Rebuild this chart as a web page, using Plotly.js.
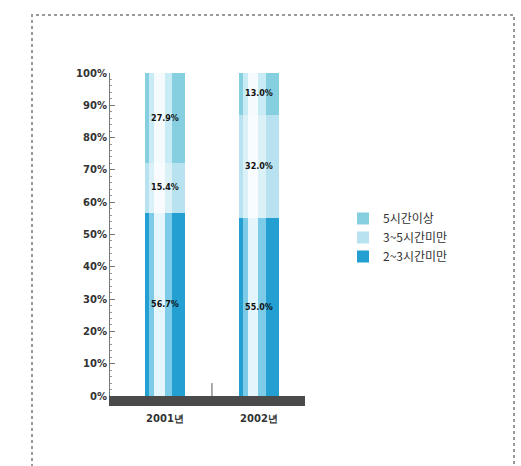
<!DOCTYPE html>
<html>
<head>
<meta charset="utf-8">
<script src="https://cdn.plot.ly/plotly-3.0.1.min.js"></script>
<style>html,body{margin:0;padding:0;background:#fff;}#chart{width:521px;height:466px;}</style>
</head>
<body>
<div id="chart"></div>
<script>
// Data
const years = ['2001년', '2002년'];
const under3h = [56.7, 55.0];   // 2~3시간미만
const h3to5 = [15.4, 32.0];     // 3~5시간미만
const over5h = [27.9, 13.0];    // 5시간이상
const seriesNames = ['2~3시간미만', '3~5시간미만', '5시간이상'];
const yTicks = [0, 10, 20, 30, 40, 50, 60, 70, 80, 90, 100];

const barW = 0.42;
const labelFont = {family: 'DejaVu Sans', size: 8, color: '#111', weight: 'bold'};

function seg(vals, name, color) {
  return {
    type: 'bar', x: years, y: vals, name: name, width: barW,
    marker: {color: color, line: {width: 0}}, hoverinfo: 'skip', textposition: 'none'
  };
}
function hl(vals, axis, color, w, off) {
  return {
    type: 'bar', x: years, y: vals, xaxis: axis, width: w, offset: off,
    marker: {color: color, line: {width: 0}}, showlegend: false, hoverinfo: 'skip',
    textposition: 'none'
  };
}

const seriesVals = [under3h, h3to5, over5h];
const baseColors = ['#239fd2', '#b8e2ef', '#86cfe0'];
const midColors = ['#7ccbe8', '#dbf1f8', '#c8ebf5'];
const coreColors = ['#e4f6fc', '#f8fcfe', '#f5fbfd'];

const traces = [];
seriesVals.forEach((v, i) => traces.push(seg(v, seriesNames[i], baseColors[i])));
// cylinder shading bands (same data, drawn narrower on overlaid axes)
seriesVals.forEach((v, i) => traces.push(hl(v, 'x2', midColors[i], 0.24, -0.17)));
seriesVals.forEach((v, i) => traces.push(hl(v, 'x3', coreColors[i], 0.11, -0.115)));
// value labels on top
seriesVals.forEach(v => traces.push({
  type: 'bar', x: years, y: v, xaxis: 'x4', width: barW,
  marker: {color: 'rgba(0,0,0,0)'}, showlegend: false, hoverinfo: 'skip',
  texttemplate: '%{y:.1f}%', textposition: 'inside', insidetextanchor: 'middle',
  textangle: 0, constraintext: 'none', textfont: labelFont
}));

const W = 195, H = 323;
const tickFont = {family: 'DejaVu Sans', size: 10, color: '#333', weight: 'bold'};
const layout = {
  width: 521, height: 466,
  margin: {l: 110, r: 216, t: 73, b: 70},
  paper_bgcolor: '#ffffff', plot_bgcolor: '#ffffff',
  barmode: 'stack', bargap: 0,
  showlegend: true,
  legend: {
    x: (343 - 110) / W, y: (396 - 204) / H, xanchor: 'left', yanchor: 'top',
    traceorder: 'reversed', font: {family: 'Noto Sans CJK KR', size: 12, color: '#333'},
    itemwidth: 30, tracegroupgap: 0, bgcolor: 'rgba(0,0,0,0)'
  },
  xaxis: {
    type: 'category', range: [-0.585, 1.49], showgrid: false, zeroline: false,
    showline: true, linecolor: '#4a4a4a', linewidth: 10, ticks: '',
    ticklabelstandoff: 4, tickfont: tickFont
  },
  xaxis2: {type: 'category', overlaying: 'x', matches: 'x', visible: false},
  xaxis3: {type: 'category', overlaying: 'x', matches: 'x', visible: false},
  xaxis4: {type: 'category', overlaying: 'x', matches: 'x', visible: false},
  yaxis: {
    range: [0, 100], tickvals: yTicks, ticktext: yTicks.map(v => v + '%'),
    showgrid: false, zeroline: false, showline: true, linecolor: '#777', linewidth: 1,
    ticks: 'inside', ticklen: 5, tickcolor: '#777',
    minor: {ticks: 'inside', dtick: 2, ticklen: 2, tickcolor: '#999'},
    tickfont: tickFont
  },
  shapes: [
    {type: 'rect', xref: 'paper', yref: 'paper',
     x0: (32 - 110) / W, x1: (514 - 110) / W, y0: (396 - 540) / H, y1: (396 - 15) / H,
     line: {color: '#9a9a9a', width: 2, dash: 'dot'}, fillcolor: 'rgba(0,0,0,0)'},
    {type: 'line', xref: 'x', yref: 'y', x0: 0.5, x1: 0.5, y0: 0, y1: 4,
     line: {color: '#555', width: 1}}
  ]
};

Plotly.newPlot('chart', traces, layout, {displayModeBar: false, staticPlot: true});
</script>
</body>
</html>
